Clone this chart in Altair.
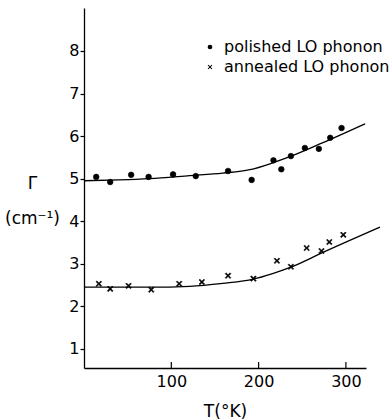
import altair as alt
import pandas as pd

FONT = "DejaVu Sans"

# polished LO phonon (dots)
pol_T = [14, 30, 54, 74, 102, 128, 165, 192, 217, 226, 237, 253, 269, 282, 295]
pol_G = [5.04, 4.92, 5.09, 5.04, 5.10, 5.06, 5.18, 4.97, 5.43, 5.22, 5.53, 5.72, 5.70, 5.96, 6.19]

# annealed LO phonon (crosses)
ann_T = [17, 30, 51, 77, 109, 135, 165, 194, 221, 237, 255, 272, 281, 297]
ann_G = [2.53, 2.41, 2.48, 2.39, 2.53, 2.57, 2.72, 2.65, 3.07, 2.93, 3.37, 3.30, 3.51, 3.68]

# fitted curves
fitp_T = [0, 40, 75, 121, 159, 190, 216, 235, 273, 322]
fitp_G = [4.95, 4.97, 5.00, 5.07, 5.13, 5.21, 5.37, 5.51, 5.84, 6.29]
fita_T = [0, 75, 121, 159, 194, 216, 237, 273, 339]
fita_G = [2.45, 2.45, 2.47, 2.54, 2.64, 2.77, 2.92, 3.26, 3.86]

x_ticks = [100, 200, 300]
y_ticks = [1, 2, 3, 4, 5, 6, 7, 8]

series = ["polished LO phonon", "annealed LO phonon"]

pts = pd.DataFrame({
    "T": pol_T + ann_T,
    "G": pol_G + ann_G,
    "series": [series[0]] * len(pol_T) + [series[1]] * len(ann_T),
})
fits = pd.DataFrame({
    "T": fitp_T + fita_T,
    "G": fitp_G + fita_G,
    "series": [series[0]] * len(fitp_T) + [series[1]] * len(fita_T),
})
ticks = pd.DataFrame({"T": x_ticks})

XSHAPE = ("M-1,-0.7L-0.7,-1L0,-0.3L0.7,-1L1,-0.7L0.3,0L1,0.7L0.7,1"
          "L0,0.3L-0.7,1L-1,0.7L-0.3,0Z")

xscale = alt.Scale(domain=[0, 323], nice=False, zero=False)
yscale = alt.Scale(domain=[0.55, 9.01], nice=False, zero=False)

xaxis = alt.Axis(values=x_ticks, tickSize=0, labelPadding=5, labelFontSize=16,
                 labelFont=FONT, labelColor="black", domainColor="black",
                 domainWidth=1.3, grid=False, title="T(°K)", titleFont=FONT,
                 titleFontSize=17, titleFontWeight="normal", titleColor="black",
                 titleBaseline="alphabetic", titleY=48)
yaxis = alt.Axis(values=y_ticks, tickSize=4, tickColor="black", tickWidth=1.2,
                 labelPadding=1, labelFontSize=16, labelFont=FONT,
                 labelColor="black", domainColor="black", domainWidth=1.3,
                 grid=False, title=["Γ", "(cm⁻¹)"], titleAngle=0,
                 titleFont=FONT, titleFontSize=17, titleFontWeight="normal",
                 titleColor="black", titleAlign="center",
                 titleBaseline="alphabetic", titleX=-52, titleY=180,
                 titleLineHeight=35)

lines = alt.Chart(fits).mark_line(color="black", strokeWidth=1.3, interpolate="monotone").encode(
    x=alt.X("T:Q", scale=xscale, axis=xaxis),
    y=alt.Y("G:Q", scale=yscale, axis=yaxis),
    detail="series:N",
)

points = alt.Chart(pts).mark_point(fill="black", stroke="black", strokeWidth=0.6,
                                   opacity=1, size=32).encode(
    x=alt.X("T:Q", scale=xscale),
    y=alt.Y("G:Q", scale=yscale),
    shape=alt.Shape("series:N",
                    scale=alt.Scale(domain=series, range=["circle", XSHAPE]),
                    legend=alt.Legend(title=None, orient="none", legendX=118, legendY=31,
                                      labelFont=FONT, labelFontSize=16, labelColor="black",
                                      labelOffset=6, labelLimit=0, symbolSize=22,
                                      rowPadding=4, symbolFillColor="black",
                                      symbolStrokeColor="black", symbolStrokeWidth=0.5,
                                      symbolOpacity=1, padding=0)),
)

xticks = alt.Chart(ticks).mark_rule(color="black", strokeWidth=1.2).encode(
    x=alt.X("T:Q", scale=xscale),
    y=alt.value(360),
    y2=alt.value(354),
)

chart = alt.layer(lines, points, xticks).properties(
    width=282, height=360,
    autosize=alt.AutoSizeParams(type="none"),
    padding={"left": 84, "top": 8, "right": 25, "bottom": 52},
    background="white",
).configure_view(stroke=None)

chart.save("out.html", embed_options={"renderer": "svg", "actions": False})
